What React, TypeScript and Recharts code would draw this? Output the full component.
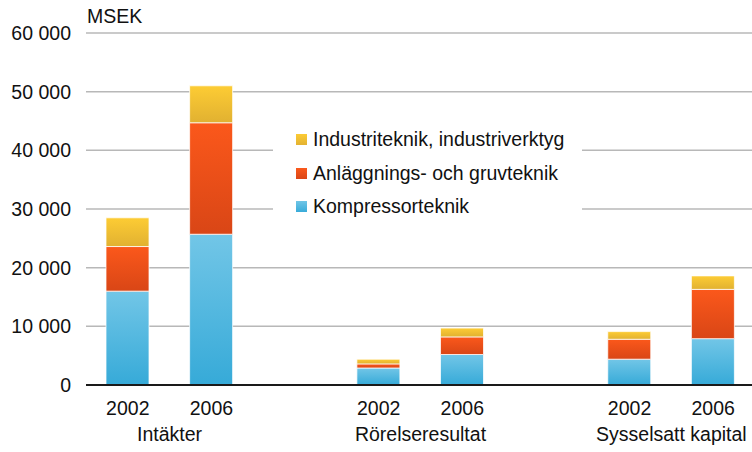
import React from 'react';
import { BarChart, Bar, XAxis, YAxis, CartesianGrid, Legend } from 'recharts';

// kategorier: tre grupper med en tom plats emellan
const years = ['2002', '2006', '', '2002', '2006', '', '2002', '2006'];
const groupNames = ['Intäkter', 'Rörelseresultat', 'Sysselsatt kapital'];
const groupStart = [0, 3, 6];

const kompressorteknik = [16000, 25700, null, 2900, 5200, null, 4400, 7900];
const anlaggningsteknik = [7600, 19000, null, 700, 3000, null, 3400, 8400];
const industriteknik = [4900, 6300, null, 800, 1500, null, 1300, 2300];

const yTicks = [0, 10000, 20000, 30000, 40000, 50000, 60000];

const seriesNames = ['Industriteknik, industriverktyg', 'Anläggnings- och gruvteknik', 'Kompressorteknik'];

const data = years.map((year, i) => ({
  year,
  komp: kompressorteknik[i],
  anl: anlaggningsteknik[i],
  ind: industriteknik[i],
}));

const font = '"Liberation Sans", Arial, sans-serif';
const fs = 19.5;
const halfSlot = 41.8;

const fmt = (v: number) => (v === 0 ? '0' : `${v / 1000} 000`);

const YearTick = (props: any) => {
  const { x, y, payload, index } = props;
  const g = groupStart.indexOf(index);
  return (
    <g>
      <text x={x} y={y} dy="0.71em" textAnchor="middle" fill="#111" fontSize={fs}>
        {payload.value}
      </text>
      {g >= 0 && (
        <text x={x + halfSlot} y={y + 26} dy="0.71em" textAnchor="middle" fill="#111" fontSize={fs}>
          {groupNames[g]}
        </text>
      )}
    </g>
  );
};

const LegendBox = () => {
  const items = [
    { name: seriesNames[0], bg: 'linear-gradient(#fccb34, #e3b232)' },
    { name: seriesNames[1], bg: 'linear-gradient(#fa591c, #da4617)' },
    { name: seriesNames[2], bg: 'linear-gradient(#70c5e6, #38abd9)' },
  ];
  return (
    <div style={{ background: '#fff', width: 309, height: 110, paddingTop: 8, boxSizing: 'border-box' }}>
      {items.map((it) => (
        <div key={it.name} style={{ display: 'flex', alignItems: 'center', height: 33.5, paddingLeft: 23 }}>
          <span style={{ width: 11, height: 11, background: it.bg, display: 'inline-block', marginRight: 6 }} />
          <span style={{ fontFamily: font, fontSize: fs, color: '#111', whiteSpace: 'nowrap' }}>{it.name}</span>
        </div>
      ))}
    </div>
  );
};

export default function App() {
  return (
    <div style={{ position: 'fixed', left: 0, top: 0, width: 752, height: 452, overflow: 'hidden', background: '#fff' }}>
      <div style={{ position: 'absolute', left: 87, top: 7, fontFamily: font, fontSize: fs, lineHeight: '19px', color: '#111' }}>
        MSEK
      </div>
      <BarChart
        width={760}
        height={452}
        data={data}
        margin={{ top: 33, right: 5, left: 0, bottom: 0 }}
        style={{ fontFamily: font }}
      >
        <defs>
          <linearGradient id="gKomp" x1="0" y1="0" x2="0" y2="1">
            <stop offset="0%" stopColor="#72c6e7" />
            <stop offset="100%" stopColor="#36aad8" />
          </linearGradient>
          <linearGradient id="gAnl" x1="0" y1="0" x2="0" y2="1">
            <stop offset="0%" stopColor="#fb581b" />
            <stop offset="100%" stopColor="#d94616" />
          </linearGradient>
          <linearGradient id="gInd" x1="0" y1="0" x2="0" y2="1">
            <stop offset="0%" stopColor="#fdcc34" />
            <stop offset="100%" stopColor="#e1b131" />
          </linearGradient>
        </defs>
        <CartesianGrid vertical={false} stroke="#b8b8b8" strokeWidth={1.5} />
        <XAxis
          dataKey="year"
          height={67}
          axisLine={{ stroke: '#1a1a1a', strokeWidth: 2 }}
          tickLine={false}
          tickMargin={10}
          interval={0}
          tick={<YearTick />}
        />
        <YAxis
          width={86}
          domain={[0, 60000]}
          ticks={yTicks}
          tickFormatter={fmt}
          axisLine={false}
          tickLine={false}
          tickMargin={9}
          tick={{ fill: '#111', fontSize: fs }}
        />
        <Legend
          layout="vertical"
          align="center"
          verticalAlign="middle"
          content={<LegendBox />}
          wrapperStyle={{ left: 273, top: 115, width: 309, height: 110 }}
        />
        <Bar dataKey="komp" name={seriesNames[2]} stackId="a" barSize={43} fill="url(#gKomp)" stroke="rgba(255,255,255,0.75)" strokeWidth={1} isAnimationActive={false} />
        <Bar dataKey="anl" name={seriesNames[1]} stackId="a" barSize={43} fill="url(#gAnl)" stroke="rgba(255,255,255,0.75)" strokeWidth={1} isAnimationActive={false} />
        <Bar dataKey="ind" name={seriesNames[0]} stackId="a" barSize={43} fill="url(#gInd)" stroke="rgba(255,255,255,0.75)" strokeWidth={1} isAnimationActive={false} />
      </BarChart>
    </div>
  );
}
